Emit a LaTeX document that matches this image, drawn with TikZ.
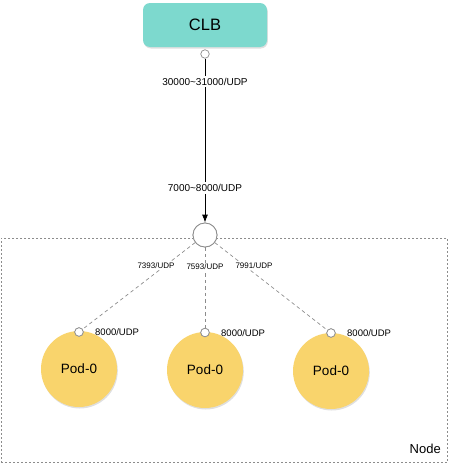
\documentclass[tikz,border=0pt]{standalone}
\usepackage{fontspec}
\setmainfont{Liberation Sans}
\usetikzlibrary{arrows.meta,shadows}
\definecolor{clbteal}{HTML}{7DD9CE}
\definecolor{podyellow}{HTML}{F9D46C}
\definecolor{linegrey}{HTML}{8C8C8C}
\tikzset{
  clbbox/.style={draw=none,fill=clbteal,rounded corners=7pt,minimum width=124pt,minimum height=44pt,
    drop shadow={opacity=0.25,shadow xshift=0.8pt,shadow yshift=-1.5pt},font=\fontsize{16.5}{18}\selectfont},
  port/.style={circle,draw=linegrey,fill=white,line width=0.7pt,minimum size=8.5pt,inner sep=0pt},
  hub/.style={circle,draw=linegrey,fill=white,line width=0.8pt,minimum size=24pt,inner sep=0pt},
  pod/.style={circle,fill=podyellow,minimum size=76pt,inner sep=0pt,
    drop shadow={opacity=0.25,shadow xshift=0.8pt,shadow yshift=-1.5pt},font=\fontsize{13.5}{15}\selectfont},
  biglabel/.style={fill=white,inner sep=2pt,font=\fontsize{10}{12}\selectfont},
  smalllabel/.style={fill=white,inner sep=1.5pt,font=\fontsize{8}{9.5}\selectfont},
  portlabel/.style={anchor=west,inner sep=0pt,font=\fontsize{9.5}{11}\selectfont},
  dashlink/.style={draw=linegrey,line width=0.7pt,dash pattern=on 3.5pt off 3pt},
  nodebox/.style={draw=linegrey,line width=0.7pt,dash pattern=on 2pt off 2pt},
}
\begin{document}
\begin{tikzpicture}[x=1pt,y=-1pt]
\useasboundingbox (0,0) rectangle (448,463);
% Node frame
\node[nodebox,anchor=north west,minimum width=446.5pt,minimum height=224pt,inner sep=0pt] (nodeframe) at (0.8,238) {};
\node[anchor=base east,inner sep=0pt,font=\fontsize{13}{15}\selectfont] (nodelabel) at (441,453) {Node};
% CLB
\node[clbbox] (clb) at (205,25) {CLB};
\node[port] (clbport) at (205,54) {};
\node[biglabel] (l1) at (205,81.5) {30000\char`~31000/UDP};
\node[biglabel] (l2) at (205,188) {7000\char`~8000/UDP};
\node[hub] (hub) at (205,235) {};
\draw[black,line width=0.8pt] (clbport) -- (l1);
\draw[black,line width=0.8pt] (l1) -- (l2);
\draw[black,line width=0.8pt,-{Latex[length=8pt,width=6pt]}] (l2) -- (hub);
% Pods
\node[pod] (pod1) at (79,369) {Pod-0};
\node[pod] (pod2) at (205,370) {Pod-0};
\node[pod] (pod3) at (331,371) {Pod-0};
\node[port] (p1) at (79,332) {};
\node[port] (p2) at (205,332.5) {};
\node[port] (p3) at (331,333) {};
\node[portlabel] (pl1) at (95,332) {8000/UDP};
\node[portlabel] (pl2) at (221,333) {8000/UDP};
\node[portlabel] (pl3) at (347,333) {8000/UDP};
% links
\draw[dashlink] (hub) -- (p1);
\draw[dashlink] (hub) -- (p2);
\draw[dashlink] (hub) -- (p3);
\node[smalllabel] (s1) at (156,266) {7393/UDP};
\node[smalllabel] (s2) at (205,267) {7593/UDP};
\node[smalllabel] (s3) at (254,266) {7991/UDP};
% redraw ports on top
\node[port] at (p1) {};
\node[port] at (p2) {};
\node[port] at (p3) {};
\node[hub] at (hub) {};
\end{tikzpicture}
\end{document}
